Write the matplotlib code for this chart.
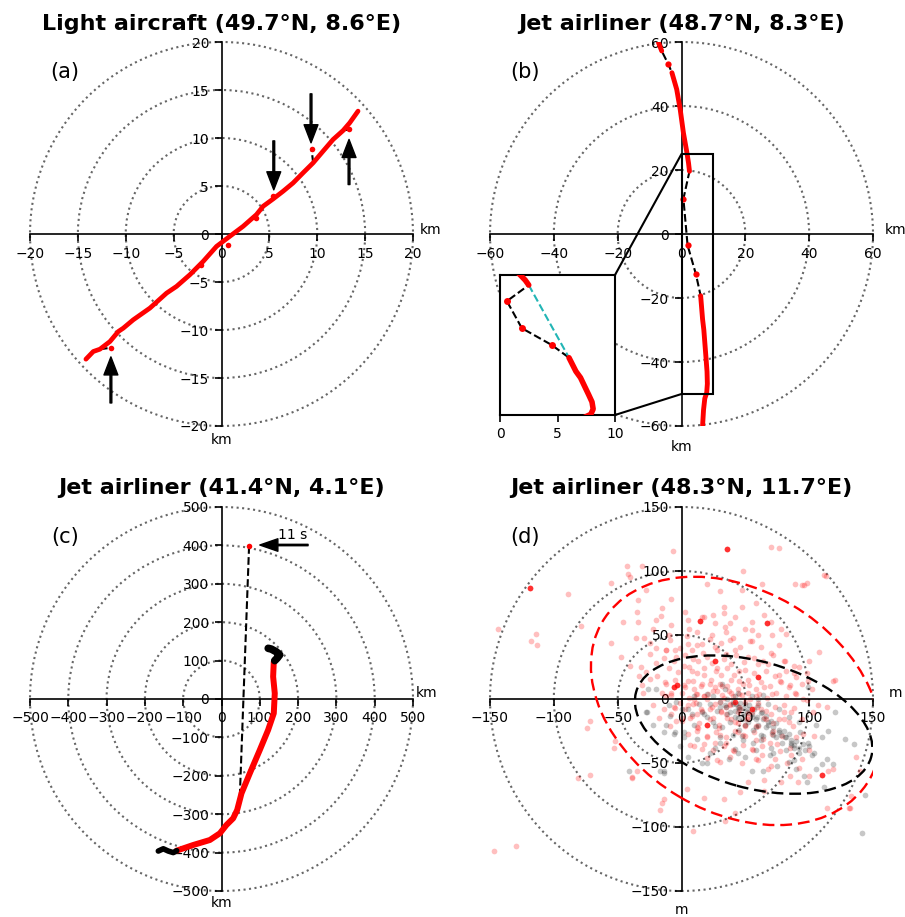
import numpy as np
import matplotlib
matplotlib.use('Agg')
import matplotlib.pyplot as plt
from matplotlib.patches import Circle, Ellipse, Rectangle, ConnectionPatch

# ---------------- data ----------------
# (a) light aircraft track (km)
a_x = [-14.16, -13.39, -12.70, -11.65, -10.78, -10.26, -9.22, -7.48, -5.74, -4.70,
       -3.30, -1.91, -0.52, 0.87, 2.26, 3.65, 4.35, 5.39, 6.43, 7.48,
       8.52, 9.57, 10.61, 11.65, 12.70, 13.39, 14.26]
a_y = [-13.04, -12.24, -12.00, -11.20, -10.16, -9.81, -8.94, -7.72, -6.16, -5.46,
       -4.24, -2.85, -1.29, -0.24, 0.80, 2.02, 2.89, 3.65, 4.45, 5.32,
       6.37, 7.41, 8.63, 9.84, 10.78, 11.58, 12.80]
a_out_x = [-11.55, 9.40, 13.32, 0.70, 3.65, -2.09, 5.39]
a_out_y = [-11.85, 8.90, 10.89, -1.10, 1.67, -3.20, 3.93]
a_link = [(2, 0), (21, 1), (24, 2)]          # track index -> outlier index
a_arrow_x = [9.35, 5.46, 13.32, -11.55]
a_arrow_from = [14.6, 9.7, 5.15, -17.6]
a_arrow_to = [9.5, 4.6, 9.85, -12.8]

# (b) jet airliner track (km), 1 = continuous red, 0 = single fix
b_x = [-7.2, -6.2, -4.1, -3.0, -1.5, -0.4, 0.6, 1.7, 2.2, 2.5, 0.6, 1.9, 4.5,
       6.0, 6.6, 7.0, 7.45, 7.7, 8.0, 8.1, 7.9, 7.3, 6.9, 6.6]
b_y = [59.8, 57.2, 53.0, 50.4, 45.2, 38.9, 31.6, 25.4, 22.2, 19.6, 11.0, -3.5, -12.5,
       -19.3, -26.6, -30.0, -35.8, -39.0, -43.0, -46.8, -49.6, -51.4, -55.0, -60.0]
b_solid = [1, 1, 0, 1, 1, 1, 1, 1, 1, 1, 0, 0, 0,
           1, 1, 1, 1, 1, 1, 1, 1, 1, 1, 1]
b_cyan_x = [2.5, 6.0]
b_cyan_y = [19.6, -19.3]
b_zoom = (0, 10, -50, 25)

# (c) jet airliner track (km)
c_top_x = [122, 130, 143, 152, 145, 139]
c_top_y = [132, 130, 123, 115, 106, 100]
c_red_x = [136.5, 134.8, 139.1, 136.5, 121.7, 100.0, 73.9, 52.2, 40.9, 30.4, 13.0,
           -4.3, -30.4, -73.9, -117.4]
c_red_y = [97.2, 58.2, 14.8, -37.3, -80.7, -132.8, -193.6, -245.7, -289.1, -310.8,
           -328.0, -349.8, -367.2, -380.2, -395.0]
c_bot_x = [-117, -126, -139, -152, -165]
c_bot_y = [-395, -400, -396, -390, -396]
c_out_x = [47.8, 72.0]
c_out_y = [-254.0, 398.0]
c_arrow = (226, 100, 401)
c_label = '11 s'

# (d) position errors (m)
d_red_x = [-119, -144, -118, -113, -114, -89, -43, -42, -31, -55, -40, -79, -55, -35, -34,
           -15, -16, -36, -29, -25, -20, -12, -5, -4, -47, -40, -32, -28, -33, -25, -31,
           -19, -13, -6, -8, -15, -34, -46,
           36, 70, 76, 89, 94, 98, 112, 2.5, 16, 33, 33, 47, 58, 47, 63, 14.5, 18, 26,
           34, 38, 55, 67, 55, 71, 82, 76, 62, 42, 26, 16, 5, 108, 100, 92, 99, 119,
           8, 13, 26, 35, 39, 52, 60, 68, 76, 78, 84, 60, 52, 39, 31, 18, 8, 5, 16, 26,
           37, 44, 52, 65, 71, 89, 11, 21, 32, 3,
           -7, 113, 96, 120, 107, 114, 140, 137, 132, -3.4,
           -147, -130, -72, -74, -53, -52, -81, -72, -38.5, -14, -15, -17, -14, -5, -4,
           -9, -1, -39, -35,
           20, 8, 13, 31, 29, 39, 44, 50, 55, 63, 73, 86, 94, 104, 110, 115, 119, 100,
           91, 78, 65, 52, 46, 33, 18, 9, 34, 42, 65, 114, 131, 133, 85, 68, 4, 16, 7,
           26, 35, 60, 69, 76, 84, 94, 103, 86, 11, 26, 60,
           20, 30, 40, 45, 50, 55, 35, 25, 15, 5, 10, 22, 28, 45, 48, 58, 62, 70, 42,
           48, 30, 20, 12, 0, -8, -12, 2, 70, 80, 88, 95, 80, 72, 58, 40, 28, 60, 75,
           90, 100, 24, 40, 55, -20, -22, -10, 6, 30, 20, -8, -28, 48, 65,
           22, 35, 45, 52, 18, 28, 38, 10, 44, 58, 66, 50, 32, 12,
           # dense core
           -9, 4, 12, 22, 31, 38, 46, 54, -12, -1, 17, 28,
           -14, -6, 3, 9, 20, 24, 33, 43, 49, 57, 64, 72, 81, 88,
           -10, -3, 6, 12, 18, 27, 36, 41, 50, 57, 66, 73, 82, 90, 98,
           -12, -5, 2, 9, 15, 23, 30, 36, 45, 53, 62, 69, 77, 85, 94, 102,
           -8, 0, 6, 12, 18, 25, 33, 39, 47, 54, 61, 67, 74, 82, 90, 98,
           -6, 3, 9, 16, 24, 31, 38, 46, 52, 59, 66, 73, 80, 88,
           0, 7, 14, 22, 29, 36, 44, 51, 58, 65, 72, 80, 87,
           5, 12, 20, 27, 35, 42, 50, 57, 64, 71, 79, 95,
           10, 18, 25, 33, 41, 48, 56, 63, 77, 85,
           20, 30, 38, 47, 58, 70, 83, 92,
           -20, -8, 5, 12, 25, 35, 42, 50, 60, 70, 78, -25, -30, -22, -18]
d_red_y = [87, 55, 45, 42, 51, 82, 104, 98, 104, 91, 95, 57, 44, 68, 77,
           71, 65, 48, 48, 44, 40, 38, 38, 33, 33, 26, 25, 21, 18, 16, 11,
           18, 13, 9, 5, 5, 60, 60,
           117, 119, 118, 90, 89, 91, 97, 68, 64, 72, 67, 72, 75, 85, 90, 61, 64, 59,
           56, 59, 60, 59, 54, 50, 51, 42, 41, 38, 41, 43, 43, 37, 30, 25, 14, 14,
           38, 30, 30, 35, 27, 33, 27, 27, 19, 13, 9, 17, 15, 15, 19, 19, 22, 14, 12, 9,
           6, 8, 5, 9, 4, 5, 4, 4, 3, 9,
           116, 96, 89, 15, -5, -6, -56, -45, -85, 10.8,
           -119, -115, -17, -23, -38, -33, -62, -59, -62, -78, -81, -87, -8, -7, -17,
           -21, -3, -61, -56,
           -20, -13, -23, -10, -23, -16, -26, -21, -39, -44, -47, -44, -47, -29, -59,
           -56, -55, -60, -65, -65, -63, -65, -73, -78, -77, -103, -95, -89, -72, -85,
           -85, -76, -60, -55, -70, -39, -36, -34, -34, -21, -34, -16, -18, -16, -10,
           -10, -3, -4, -3,
           0, -2, 2, -6, -2, -10, -12, -15, -8, -5, 8, 12, 24, 22, 12, 8, -8, -12, -18,
           -28, -28, -30, -22, -15, -12, 2, 26, 36, 30, 20, 0, -5, -25, -32, -40, -48,
           -48, -35, -30, -40, 50, 48, 45, 28, 55, 50, 55, 84, 90, 78, 85, 100, 66,
           -8, -6, 4, -14, 2, 6, -4, 0, -10, 2, -16, -20, 10, -12,
           # dense core
           46, 49, 42, 47, 44, 46, 41, 45, 38, 40, 36, 38,
           32, 30, 34, 31, 33, 28, 31, 34, 29, 32, 30, 34, 30, 26,
           24, 21, 25, 20, 24, 22, 24, 19, 23, 20, 22, 18, 22, 17, 20,
           12, 15, 11, 14, 10, 15, 12, 10, 14, 11, 13, 10, 14, 11, 12, 8,
           3, 5, 1, 4, 2, 6, 1, 5, 3, 0, 4, 1, 5, 2, 4, -1,
           -6, -8, -4, -9, -6, -9, -5, -8, -11, -6, -9, -6, -10, -7,
           -17, -15, -19, -16, -20, -15, -19, -16, -21, -15, -19, -16, -21,
           -27, -25, -29, -26, -30, -25, -29, -26, -31, -27, -29, -27,
           -37, -35, -40, -37, -41, -36, -40, -37, -41, -38,
           -46, -49, -45, -50, -47, -52, -50, -54,
           62, 58, 62, 52, 66, 52, 64, 55, 50, 60, 55, 35, 5, -5, -15]
d_red_strong_x = [36, -119, 67, 14.5, -3.4, 110, 26, 60, -6, 20, 42, 55]
d_red_strong_y = [117, 87, 59, 61, 10.8, -59, 30, 17, 9, -20, -2, -8]
d_blk_x = [-26, -20, 34, 44, 64, 99, 32, -27, -22, -14, -5, -9, -17, -14, -41, 34, 43,
           52, 58, 63, 68, 76, 81, 86, 79, 71, 64, 93, 99, 37, 42, 55, 64, 69, 84, 114,
           110, 128, 141, 112, 26, 16, 5, 1.7, 12, 22, 47, 56, 104, 119, 98, 144, -28,
           -6, -1, -14, 40, 45, 48, 38, 50, 55, 60, 52, 42, 36, 30, 66, 74, 88, 92, 82,
           70, 62, 20, 10, 45, 30, 50, 75, 90, 105, 115, 25, 55, 60, -10, 120, 135, 20,
           5, 44, 48, 58, 72, 86,
           30, 35, 40, 42, 46, 48, 51, 53, 55, 57, 59, 62, 64, 66, 68, 70, 72, 74, 76,
           78, 80, 82, 84, 86, 88, 90, 92, 95, 97, 100, 102, 36, 28, 22, 18, 25, 32, 38,
           44, 50, 56, 62, 48, 40, 30, 14, 8, 0, -4, 10, 20, 42, 60, 68, 76, 84, 92,
           110, 105, 96, 88, 72, 58, 44, 26, 16, 2, -12]
d_blk_y = [8, 8, 8, 5, 3, 9, 12, -10, -20, -26, -26, -13, -56, -58, -56, -5, -4,
           -8, -16, -10, -18, -26, -30, -34, -34, -26, -29, -26, -34, -47, -39, -56, -56,
           -44, -49, -47, -51, -31, -105, -69, -21, -10, -8, -26, -31, -42, -29, -34, -42,
           -51, -65, -75, -10, -27, -37, -56, -2, -8, -12, -10, -4, -14, -20, -18, -14, 0,
           -6, -22, -30, -38, -42, -40, -38, -32, -14, -20, -24, -34, -45, -52, -55, -20,
           -25, 2, 2, -5, -5, -10, -35, -50, -45, -6, -16, -22, -28, -36,
           -2, -6, -4, -9, -3, -7, -10, -5, -12, -8, -14, -11, -16, -13, -20, -17, -22,
           -19, -24, -28, -25, -30, -27, -32, -36, -33, -38, -35, -40, -37, -44, -12, -9,
           -4, -12, -18, -22, -18, -15, -20, -24, -28, -32, -28, -30, -4, -12, -8, -2, 2,
           4, 2, 0, -4, -8, -14, -18, -30, -55, -60, -48, -42, -40, -42, -38, -50, -30,
           -20]
d_ell_red = (42.5, -1.5, 242.8, 173.8, -30.6)     # cx, cy, width, height, angle
d_ell_blk = (56.5, -20.0, 191.0, 99.0, -15.4)

titles = ['Light aircraft (49.7°N, 8.6°E)', 'Jet airliner (48.7°N, 8.3°E)',
          'Jet airliner (41.4°N, 4.1°E)', 'Jet airliner (48.3°N, 11.7°E)']
letters = ['(a)', '(b)', '(c)', '(d)']
limits = [20, 60, 500, 150]
steps = [5, 20, 100, 50]
units = ['km', 'km', 'km', 'm']

# ---------------- figure ----------------
W, H = 905, 917
fig = plt.figure(figsize=(W / 100, H / 100), dpi=100)
boxes = [(30, 426), (490, 426), (30, 891), (490, 891)]
axes = []
for (px, py) in boxes:
    axes.append(fig.add_axes([px / W, (H - py) / H, 383 / W, 384 / H]))

unit_pos = [((1.018, 0.51), (0.5, -0.037)), ((1.03, 0.51), (0.5, -0.055)),
            ((1.008, 0.515), (0.5, -0.031)), ((1.04, 0.515), (0.5, -0.05))]

for i, ax in enumerate(axes):
    lim, st = limits[i], steps[i]
    ax.set_xlim(-lim, lim)
    ax.set_ylim(-lim, lim)
    for s in ['left', 'bottom']:
        ax.spines[s].set_position('zero')
        ax.spines[s].set_linewidth(1.2)
    ax.spines['top'].set_visible(False)
    ax.spines['right'].set_visible(False)
    ticks = np.arange(-lim, lim + st, st)
    ax.set_xticks(ticks)
    ax.set_yticks(ticks)
    ax.tick_params(width=1.2, length=5, labelsize=10, pad=4)
    ax.patch.set_visible(False)
    for r in np.arange(st, lim + st, st):
        ax.add_patch(Circle((0, 0), r, fill=False, ls=':', ec='0.4', lw=1.5,
                            clip_on=False, zorder=0))
    ax.set_title(titles[i], fontsize=16, fontweight='bold', pad=9)
    ax.text(0.091, 0.922, letters[i], transform=ax.transAxes, fontsize=15,
            ha='center', va='center')
    (ux, uy), (bx, by) = unit_pos[i]
    ax.text(ux, uy, units[i], transform=ax.transAxes, fontsize=10, ha='left', va='center')
    ax.text(bx, by, units[i], transform=ax.transAxes, fontsize=10, ha='center', va='center')

# (a)
ax = axes[0]
for ti, oi in a_link:
    ax.plot([a_x[ti], a_out_x[oi]], [a_y[ti], a_out_y[oi]], 'k--', lw=1.5, zorder=2)
ax.plot(a_x, a_y, color='red', lw=3.4, solid_capstyle='round', zorder=3)
ax.plot(a_out_x, a_out_y, 'o', color='red', ms=4, mew=0, zorder=3)
for x, y0, y1 in zip(a_arrow_x, a_arrow_from, a_arrow_to):
    ax.annotate('', xy=(x, y1), xytext=(x, y0),
                arrowprops=dict(facecolor='black', edgecolor='black', width=1.3,
                                headwidth=10, headlength=13, shrink=0))


def draw_track(ax, x, y, solid, lw, ms):
    ax.plot(x, y, 'k--', lw=1.5, zorder=2)
    run = []
    for k in range(len(x)):
        if solid[k]:
            run.append(k)
        if (not solid[k] or k == len(x) - 1) and run:
            ax.plot([x[j] for j in run], [y[j] for j in run], color='red', lw=lw,
                    solid_capstyle='round', zorder=3)
            run = []
        if not solid[k]:
            ax.plot(x[k], y[k], 'o', color='red', ms=ms, mew=0, zorder=3)


# (b)
ax = axes[1]
draw_track(ax, b_x, b_y, b_solid, 3.5, 4.5)
x0, x1, y0, y1 = b_zoom
ax.add_patch(Rectangle((x0, y0), x1 - x0, y1 - y0, fill=False, ec='black', lw=1.5,
                       zorder=4))
axin = fig.add_axes([500 / W, (H - 415) / H, 115 / W, 140 / H])
draw_track(axin, b_x, b_y, b_solid, 4, 5)
axin.plot(b_cyan_x, b_cyan_y, '--', color='#22b5b5', lw=1.5, zorder=2)
axin.set_xlim(x0, x1)
axin.set_ylim(y0, y1)
axin.set_xticks([0, 5, 10])
axin.set_yticks([])
axin.tick_params(width=1.2, length=5, labelsize=10, pad=4)
for s in axin.spines.values():
    s.set_linewidth(1.5)
for (xa, ya), (xb, yb) in [((x1, y1), (x0, y1)), ((x1, y0), (x0, y0))]:
    fig.add_artist(ConnectionPatch(xyA=(xa, ya), coordsA=axin.transData,
                                   xyB=(xb, yb), coordsB=ax.transData,
                                   color='black', lw=1.5))

# (c)
ax = axes[2]
ax.plot(c_out_x, c_out_y, 'k--', lw=1.5, zorder=2)
ax.plot(c_out_x[1], c_out_y[1], 'o', color='red', ms=4, mew=0, zorder=3)
ax.plot(c_red_x, c_red_y, color='red', lw=4.3, solid_capstyle='round', zorder=3)
ax.plot(c_top_x, c_top_y, color='black', lw=5.5, solid_capstyle='round', zorder=3)
ax.plot(c_bot_x, c_bot_y, color='black', lw=4, solid_capstyle='round', zorder=3)
ax.annotate('', xy=(c_arrow[1], c_arrow[2]), xytext=(c_arrow[0], c_arrow[2]),
            arrowprops=dict(facecolor='black', edgecolor='black', width=1.0,
                            headwidth=9, headlength=13, shrink=0))
ax.text(148, 408, c_label, fontsize=10, ha='left', va='bottom')

# (d)
ax = axes[3]
ax.scatter(d_red_x, d_red_y, s=17, color='red', alpha=0.25, lw=0, zorder=2)
ax.scatter(d_blk_x, d_blk_y, s=17, color='black', alpha=0.22, lw=0, zorder=2)
ax.scatter(d_red_strong_x, d_red_strong_y, s=17, color='red', alpha=0.75, lw=0, zorder=2)
for (cx, cy, w, h, ang), col in [(d_ell_red, 'red'), (d_ell_blk, 'black')]:
    ax.add_patch(Ellipse((cx, cy), w, h, angle=ang, fill=False, ec=col, lw=1.7,
                         ls=(0, (5, 2.5)), zorder=4))

fig.savefig('out.png', dpi=100)
